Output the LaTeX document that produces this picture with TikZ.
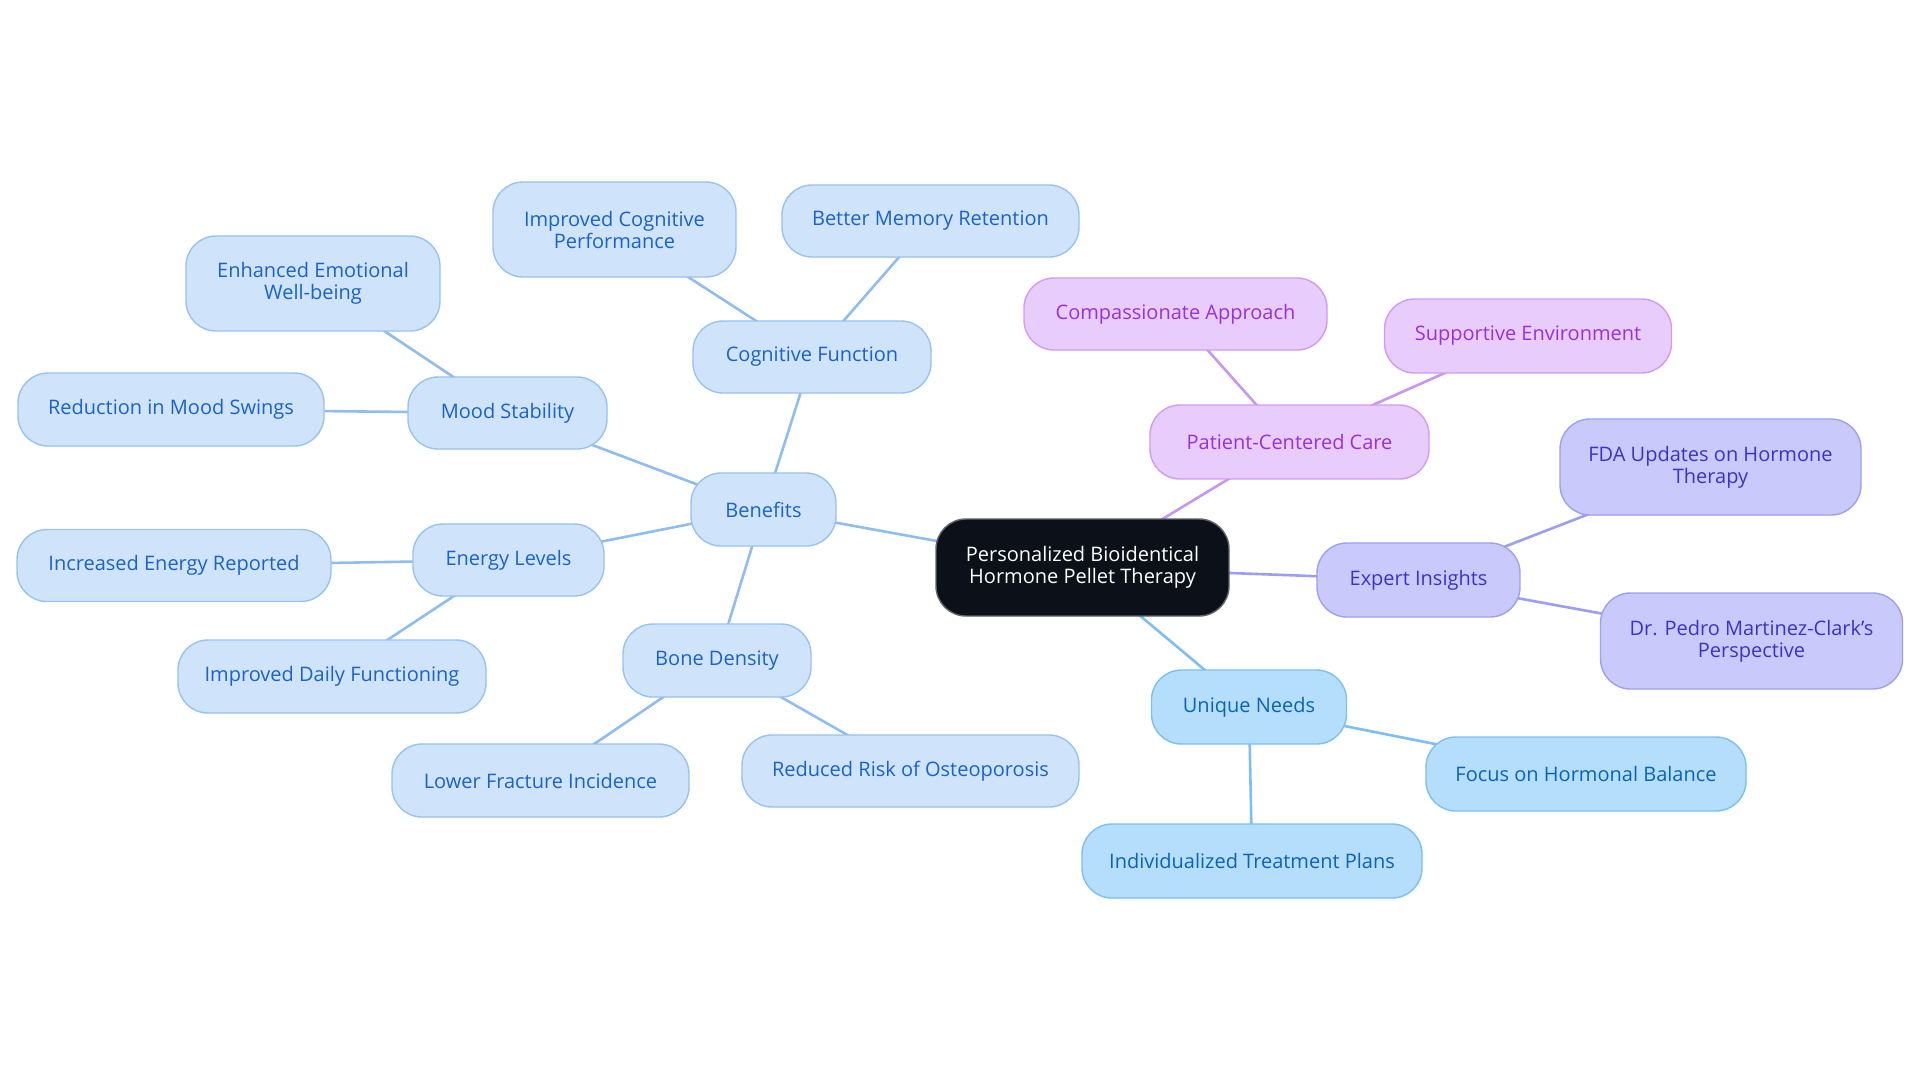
\documentclass[tikz,border=0pt]{standalone}
\usepackage{fontspec}
\setmainfont{Open Sans}
\usetikzlibrary{backgrounds}
\definecolor{cfill}{HTML}{0C1119}
\definecolor{cdraw}{HTML}{5F646C}
\definecolor{bfill}{HTML}{CFE3FB}
\definecolor{bdraw}{HTML}{98C2F2}
\definecolor{btext}{HTML}{1A63C7}
\definecolor{bedge}{HTML}{90BDF0}
\definecolor{ufill}{HTML}{B5DEFC}
\definecolor{udraw}{HTML}{7CC0F0}
\definecolor{utext}{HTML}{0B63B5}
\definecolor{uedge}{HTML}{7CBFF0}
\definecolor{pfill}{HTML}{E8CCFB}
\definecolor{pdraw}{HTML}{D09CF2}
\definecolor{ptext}{HTML}{9B30D9}
\definecolor{pedge}{HTML}{C896F0}
\definecolor{efill}{HTML}{C9CAFB}
\definecolor{edraw}{HTML}{9DA0F0}
\definecolor{etext}{HTML}{3B33C8}
\definecolor{eedge}{HTML}{9B9EF2}
\tikzset{
  box/.style={rounded corners=15pt, draw, line width=0.7pt, align=center, inner sep=0pt,
    font=\fontsize{10}{11}\selectfont},
  cbox/.style={box, fill=cfill, draw=cdraw, text=white},
  bbox/.style={box, fill=bfill, draw=bdraw, text=btext},
  ubox/.style={box, fill=ufill, draw=udraw, text=utext},
  pbox/.style={box, fill=pfill, draw=pdraw, text=ptext},
  ebox/.style={box, fill=efill, draw=edraw, text=etext},
  link/.style={line width=1.3pt},
}
\begin{document}
\begin{tikzpicture}[x=0.5pt,y=-0.5pt]
\useasboundingbox (0,0) rectangle (1920,1083);
\node[cbox, minimum width=146.5pt, minimum height=48.5pt] (c) at (1082.5,567.5) {Personalized Bioidentical\\Hormone Pellet Therapy};
% Benefits branch
\node[bbox, minimum width=72.5pt, minimum height=36.5pt] (ben) at (763.5,509.5) {Benefits};
\node[bbox, minimum width=119pt, minimum height=36pt] (cog) at (812,357) {Cognitive Function};
\node[bbox, minimum width=99.5pt, minimum height=36pt] (mood) at (507.5,413) {Mood Stability};
\node[bbox, minimum width=95.5pt, minimum height=36pt] (energy) at (508.5,560) {Energy Levels};
\node[bbox, minimum width=94pt, minimum height=36.5pt] (bone) at (717,660.5) {Bone Density};
\node[bbox, minimum width=121.5pt, minimum height=47.5pt] (icp) at (614.5,229.5) {Improved Cognitive\\Performance};
\node[bbox, minimum width=148.5pt, minimum height=36pt] (bmr) at (930.5,221) {Better Memory Retention};
\node[bbox, minimum width=127pt, minimum height=47.5pt] (eew) at (313,283.5) {Enhanced Emotional\\Well-being};
\node[bbox, minimum width=153pt, minimum height=36.5pt] (rms) at (171,409.5) {Reduction in Mood Swings};
\node[bbox, minimum width=157pt, minimum height=36pt] (ier) at (174,565.5) {Increased Energy Reported};
\node[bbox, minimum width=154pt, minimum height=36.5pt] (idf) at (332,676.5) {Improved Daily Functioning};
\node[bbox, minimum width=148.5pt, minimum height=36.5pt] (lfi) at (540.5,780.5) {Lower Fracture Incidence};
\node[bbox, minimum width=168.5pt, minimum height=36pt] (rro) at (910.5,771) {Reduced Risk of Osteoporosis};
% Patient-centered branch
\node[pbox, minimum width=139.5pt, minimum height=37pt] (pcc) at (1289.5,442) {Patient-Centered Care};
\node[pbox, minimum width=151.5pt, minimum height=36pt] (ca) at (1175.5,314) {Compassionate Approach};
\node[pbox, minimum width=143.5pt, minimum height=37pt] (se) at (1528,336) {Supportive Environment};
% Expert branch
\node[ebox, minimum width=101.5pt, minimum height=37pt] (ei) at (1418.5,580) {Expert Insights};
\node[ebox, minimum width=150.5pt, minimum height=48pt] (fda) at (1710.5,467) {FDA Updates on Hormone\\Therapy};
\node[ebox, minimum width=151pt, minimum height=48pt] (dp) at (1751.5,641) {Dr. Pedro Martinez-Clark's\\Perspective};
% Unique needs branch
\node[ubox, minimum width=97.5pt, minimum height=37pt] (un) at (1249,707) {Unique Needs};
\node[ubox, minimum width=160pt, minimum height=37pt] (fhb) at (1586,774) {Focus on Hormonal Balance};
\node[ubox, minimum width=170pt, minimum height=37pt] (itp) at (1252,861) {Individualized Treatment Plans};
\begin{scope}[on background layer]
\fill[white] (0,0) rectangle (1920,1083);
\draw[link, bedge] (c.center) -- (ben.center);
\draw[link, bedge] (ben.center) -- (cog.center);
\draw[link, bedge] (ben.center) -- (mood.center);
\draw[link, bedge] (ben.center) -- (energy.center);
\draw[link, bedge] (ben.center) -- (bone.center);
\draw[link, bedge] (cog.center) -- (icp.center);
\draw[link, bedge] (cog.center) -- (bmr.center);
\draw[link, bedge] (mood.center) -- (eew.center);
\draw[link, bedge] (mood.center) -- (rms.center);
\draw[link, bedge] (energy.center) -- (ier.center);
\draw[link, bedge] (energy.center) -- (idf.center);
\draw[link, bedge] (bone.center) -- (lfi.center);
\draw[link, bedge] (bone.center) -- (rro.center);
\draw[link, pedge] (c.center) -- (pcc.center);
\draw[link, pedge] (pcc.center) -- (ca.center);
\draw[link, pedge] (pcc.center) -- (se.center);
\draw[link, eedge] (c.center) -- (ei.center);
\draw[link, eedge] (ei.center) -- (fda.center);
\draw[link, eedge] (ei.center) -- (dp.center);
\draw[link, uedge] (c.center) -- (un.center);
\draw[link, uedge] (un.center) -- (fhb.center);
\draw[link, uedge] (un.center) -- (itp.center);
\end{scope}
\end{tikzpicture}
\end{document}
